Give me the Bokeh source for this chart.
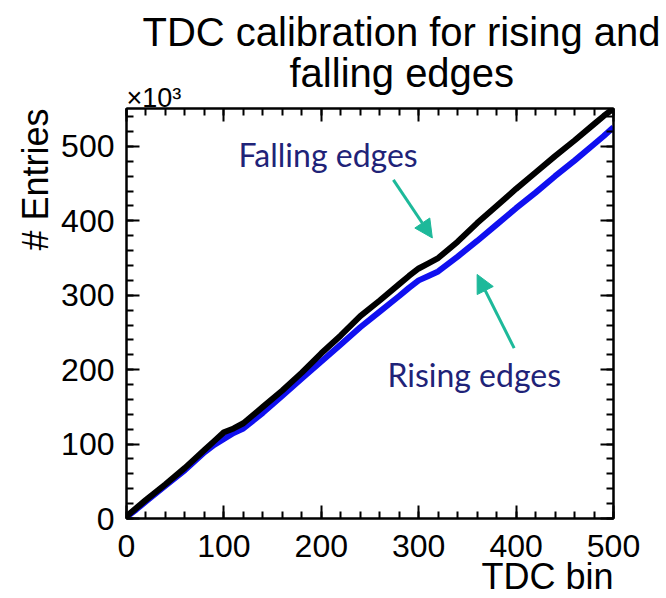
from bokeh.plotting import figure
from bokeh.models import Range1d, LinearAxis, Title, Arrow, NormalHead, FixedTicker, Label
from bokeh.embed import file_html
from bokeh.resources import INLINE

# ---- data (entries in units of 10^3) ----
tdc_bin = [0, 10, 20, 40, 60, 80, 90, 100, 110, 120, 140, 160, 180, 200, 220, 240,
           260, 280, 290, 300, 310, 320, 340, 360, 380, 400, 420, 440, 460, 480, 490, 500]
falling = [3, 14, 25, 46, 68, 92, 104, 116, 121, 128, 150, 172, 196, 222, 246, 272,
           293, 315, 326, 336, 343, 350, 372, 397, 420, 443, 465, 487, 508, 530, 541, 551]
rising = [2, 12, 23, 44, 65, 89, 99, 107, 115, 121, 142, 165, 188, 211, 234, 257,
          278, 299, 310, 320, 326, 332, 352, 373, 395, 417, 438, 460, 481, 503, 514, 526]

x_ticks = [0, 100, 200, 300, 400, 500]
y_ticks = [0, 100, 200, 300, 400, 500]
minor = list(range(0, 560, 20))

FONT = "Liberation Sans"

p = figure(width=666, height=598, output_backend="svg", toolbar_location=None,
           x_range=Range1d(0, 500), y_range=Range1d(0, 551),
           x_axis_location=None, y_axis_location=None)
p.min_border_left = 126
p.min_border_right = 53
p.min_border_top = 108
p.min_border_bottom = 80
p.xgrid.visible = False
p.ygrid.visible = False
p.outline_line_color = "black"
p.outline_line_width = 2
p.background_fill_color = "white"
p.border_fill_color = "white"

def make_axis(ticks, show_labels, standoff=0):
    ax = LinearAxis(ticker=FixedTicker(ticks=ticks, minor_ticks=minor))
    ax.axis_line_width = 2
    ax.axis_line_color = "black"
    ax.major_tick_in = 13
    ax.major_tick_out = 0
    ax.minor_tick_in = 7
    ax.minor_tick_out = 0
    ax.major_tick_line_width = 2
    ax.minor_tick_line_width = 2
    ax.major_label_text_font = FONT
    if show_labels:
        ax.major_label_text_font_size = "32px"
        ax.major_label_text_color = "black"
        ax.major_label_standoff = standoff
    else:
        ax.major_label_text_font_size = "1px"
        ax.major_label_text_color = None
        ax.major_label_standoff = 0
    return ax

bx = make_axis(x_ticks, True, 16)
ly = make_axis(y_ticks, True, 12)
tx = make_axis(x_ticks, False)
ry = make_axis(y_ticks, False)

def title(text, align, size, standoff, offset=0):
    return Title(text=text, align=align, offset=offset, text_font=FONT,
                 text_font_style="normal", text_font_size=size,
                 text_color="black", standoff=standoff)

# main title (outermost, line 1) handled by the plot's own title
p.title = title("TDC calibration for rising and", "left", "40px", 11, 16)
t2 = title("falling edges", "left", "40px", -21, 163)
x10 = title("×10³", "left", "27px", -8)
ytitle = title("# Entries", "right", "36px", 5)
xtitle = title("TDC bin", "right", "36px", -12)

p.above = [tx, x10, t2]
p.left = [ly, ytitle]
p.below = [bx, xtitle]
p.right = [ry]

p.line(tdc_bin, rising, line_color="#1010F0", line_width=6)
p.line(tdc_bin, falling, line_color="black", line_width=6)

NAVY = "#1F2378"
TEAL = "#1DB99A"
p.add_layout(Label(x=207, y=489, text="Falling edges", text_font="Lato", text_color=NAVY,
                   text_font_size="32px", text_align="center", text_baseline="middle"))
p.add_layout(Label(x=357, y=194, text="Rising edges", text_font="Lato", text_color=NAVY,
                   text_font_size="32px", text_align="center", text_baseline="middle"))
p.add_layout(Arrow(x_start=274, y_start=455, x_end=314, y_end=377, line_color=TEAL, line_width=3,
                   end=NormalHead(size=18, fill_color=TEAL, line_color=TEAL)))
p.add_layout(Arrow(x_start=398, y_start=229, x_end=360, y_end=328, line_color=TEAL, line_width=3,
                   end=NormalHead(size=18, fill_color=TEAL, line_color=TEAL)))

open("out.html", "w").write(file_html(p, INLINE))
